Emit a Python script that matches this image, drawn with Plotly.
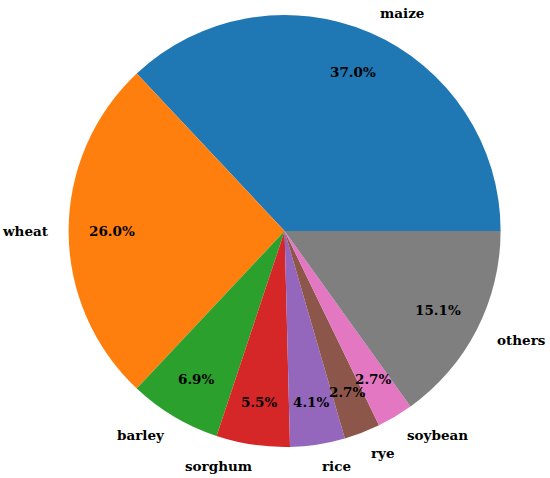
import math
import plotly.graph_objects as go

crops = ["maize", "wheat", "barley", "sorghum", "rice", "rye", "soybean", "others"]
shares = [37.0, 26.0, 6.9, 5.5, 4.1, 2.7, 2.7, 15.1]
colors = ["#1f77b4", "#ff7f0e", "#2ca02c", "#d62728", "#9467bd", "#8c564b", "#e377c2", "#7f7f7f"]

W, H = 550, 478
cx, cy, r = 284.6, 231, 216  # pie centre / radius in pixels (from top-left)
LABEL_DIST, PCT_DIST = 1.1, 0.8

total = sum(shares)
# plotly counterclockwise: first slice ends at the rotation angle, so back it off
rot = 90 - 360 * shares[0] / total

fig = go.Figure()
fig.add_trace(go.Pie(labels=crops, values=shares, sort=False,
                     direction="counterclockwise", rotation=rot,
                     marker={"colors": colors, "line": {"width": 0}},
                     textinfo="none", hoverinfo="label+percent",
                     domain={"x": [(cx - r) / W, (cx + r) / W],
                             "y": [(H - cy - r) / H, (H - cy + r) / H]}))

font = {"family": "DejaVu Serif", "size": 13.5, "color": "#000"}
start = 0.0
for name, v in zip(crops, shares):
    mid = math.radians((start + v / 2) / total * 360)
    start += v
    c, s = math.cos(mid), math.sin(mid)
    lx = cx + LABEL_DIST * r * c
    ly = cy - LABEL_DIST * r * s
    fig.add_annotation(x=lx / W, y=1 - ly / H, xref="paper", yref="paper",
                       text="<b>%s</b>" % name, showarrow=False, borderpad=0,
                       xshift=0 if c > 0 else 3,
                       xanchor="left" if c > 0 else "right", yanchor="middle", font=font)
    px_ = cx + PCT_DIST * r * c
    py_ = cy - PCT_DIST * r * s
    fig.add_annotation(x=px_ / W, y=1 - py_ / H, xref="paper", yref="paper",
                       text="<b>%.1f%%</b>" % (v / total * 100), showarrow=False, borderpad=0,
                       xanchor="center", yanchor="middle", font=font)

fig.update_layout(width=W, height=H, margin={"l": 0, "r": 0, "t": 0, "b": 0},
                  paper_bgcolor="#fff", plot_bgcolor="#fff", showlegend=False)
# drop the default 8px body margin so the figure fills the window
fig.write_html("out.html", config={"displayModeBar": False},
               post_script="document.body.style.margin='0px';")
